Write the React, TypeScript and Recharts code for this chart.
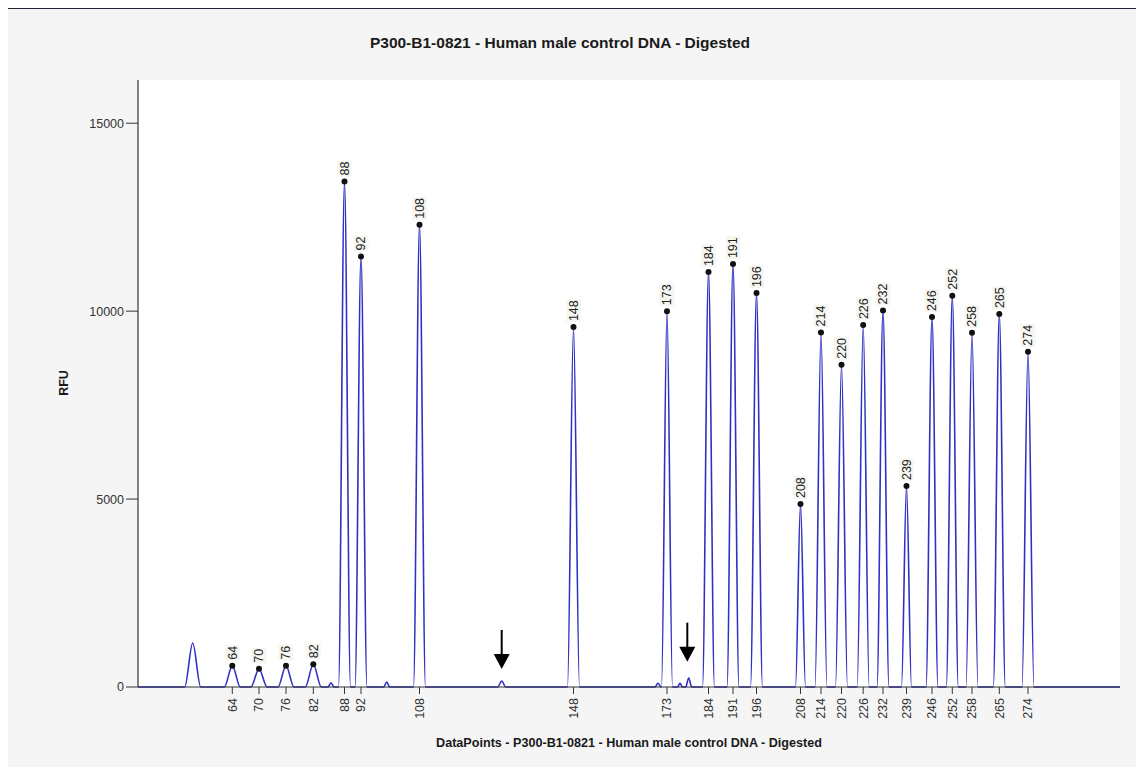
import React from "react";
import { ComposedChart, Line, Scatter, XAxis, YAxis } from "recharts";

// sized fragments (bp) with their position (data points) and height (RFU)
const SIZES = ["64", "70", "76", "82", "88", "92", "108", "148", "173", "184", "191", "196", "208", "214", "220", "226", "232", "239", "246", "252", "258", "265", "274"];
const SIZE_POS = [94.3, 121, 148, 175.3, 206.5, 223, 281.5, 435.5, 529, 570.5, 595, 618.5, 662.5, 683, 703.5, 725.2, 745, 768.5, 794, 814.3, 834, 861.3, 890];
const SIZE_RFU = [567, 487, 567, 604, 13450, 11457, 12297, 9576, 10000, 11039, 11252, 10480, 4868, 9435, 8573, 9629, 10020, 5347, 9842, 10409, 9424, 9922, 8919];
const SIZE_WIDTH = [8, 8, 8, 8, 6, 6, 6, 6, 5.5, 6, 6, 6, 5, 6, 6, 6, 6, 5, 6, 6, 6, 6, 6];

// unlabelled peaks in the trace
const MINOR_POS = [54.7, 193, 248.7, 363.7, 520, 542, 550.7];
const MINOR_RFU = [1170, 115, 130, 160, 100, 100, 240];
const MINOR_WIDTH = [8, 3, 3, 4, 3, 2.5, 3];

// annotation arrows (tip position)
const ARROW_POS = [363.7, 549.3];
const ARROW_TIP_RFU = [479, 673];

const Y_TICKS = [0, 5000, 10000, 15000];
const X_MAX = 982;
const Y_MAX = 16150;

const FONT = "Arial, 'Liberation Sans', sans-serif";
const TRACE = "#3030c4";
const AXIS = "#333333";

const peaks = [
  ...SIZE_POS.map((x, i) => ({ x, h: SIZE_RFU[i], w: SIZE_WIDTH[i] })),
  ...MINOR_POS.map((x, i) => ({ x, h: MINOR_RFU[i], w: MINOR_WIDTH[i] })),
].sort((a, b) => a.x - b.x);

const trace: { x: number; y: number }[] = [{ x: 0, y: 0 }];
peaks.forEach((p) => {
  trace.push({ x: p.x - p.w, y: 0 }, { x: p.x, y: p.h }, { x: p.x + p.w, y: 0 });
});
trace.push({ x: X_MAX, y: 0 });

const sizeDots = SIZES.map((s, i) => ({ x: SIZE_POS[i], y: SIZE_RFU[i], label: s }));
const arrows = ARROW_POS.map((x, i) => ({ x, y: ARROW_TIP_RFU[i] }));

const SizeTick = (props: any) => {
  const { x, y, payload } = props;
  const i = SIZE_POS.indexOf(payload.value);
  return (
    <text
      x={0}
      y={0}
      dy="0.35em"
      textAnchor="end"
      transform={`translate(${x},${y}) rotate(-90)`}
      fontSize={12.5}
      fontFamily={FONT}
      fill={AXIS}
    >
      {SIZES[i]}
    </text>
  );
};

const PeakMark = (props: any) => {
  const { cx, cy, payload } = props;
  const len = payload.label.length * 7;
  return (
    <g>
      <g transform={`translate(${cx},${cy - 6}) rotate(-90)`}>
        <rect x={-1} y={-7.5} width={len + 2} height={15} fill="#f7f7f2" />
        <text x={0} y={0} dy="0.35em" fontSize={12.5} fontFamily={FONT} fill="#222">
          {payload.label}
        </text>
      </g>
      <circle cx={cx} cy={cy} r={3} fill="#111" />
    </g>
  );
};

const Arrow = (props: any) => {
  const { cx, cy } = props;
  return (
    <g>
      <line x1={cx} y1={cy - 39} x2={cx} y2={cy - 14} stroke="#000" strokeWidth={2} />
      <polygon points={`${cx - 8},${cy - 15} ${cx + 8},${cy - 15} ${cx},${cy}`} fill="#000" />
    </g>
  );
};

export default function App() {
  return (
    <div
      style={{
        position: "relative",
        marginLeft: -4,
        width: 1135,
        height: 758,
        borderTop: "1px solid #1e2438",
        borderLeft: "1px solid #1e2438",
        background: "#f5f5f5",
        fontFamily: FONT,
        overflow: "hidden",
      }}
    >
      <div style={{ position: "absolute", left: 133, top: 71, width: 982, height: 607, background: "#fff" }} />
      <div
        style={{
          position: "absolute",
          left: 0,
          top: 25,
          width: 1110,
          textAlign: "center",
          fontSize: 15.5,
          lineHeight: "18px",
          fontWeight: "bold",
          color: "#1a1a1a",
        }}
      >
        P300-B1-0821 - Human male control DNA - Digested
      </div>
      <div
        style={{
          position: "absolute",
          left: 59,
          top: 374,
          transform: "translate(-50%, -50%) rotate(-90deg)",
          fontSize: 12.5,
          fontWeight: "bold",
          color: "#1a1a1a",
          whiteSpace: "nowrap",
        }}
      >
        RFU
      </div>
      <div
        style={{
          position: "absolute",
          left: 624,
          top: 727,
          transform: "translateX(-50%)",
          fontSize: 12.6,
          lineHeight: "15px",
          fontWeight: "bold",
          color: "#1a1a1a",
          whiteSpace: "nowrap",
        }}
      >
        DataPoints - P300-B1-0821 - Human male control DNA - Digested
      </div>
      <div style={{ position: "absolute", left: 0, top: 0 }}>
        <ComposedChart width={1135} height={758} margin={{ top: 71, right: 20, bottom: 40, left: 73 }}>
          <XAxis
            dataKey="x"
            type="number"
            domain={[0, X_MAX]}
            ticks={SIZE_POS}
            interval={0}
            tick={<SizeTick />}
            tickSize={7}
            tickMargin={4}
            height={40}
            axisLine={{ stroke: AXIS, strokeWidth: 1.2 }}
            tickLine={{ stroke: AXIS }}
          />
          <YAxis
            type="number"
            domain={[0, Y_MAX]}
            ticks={Y_TICKS}
            interval={0}
            width={60}
            tickSize={12}
            tickMargin={2}
            tick={{ fontSize: 12.5, fill: AXIS, fontFamily: FONT }}
            axisLine={{ stroke: AXIS, strokeWidth: 1.2 }}
            tickLine={{ stroke: AXIS }}
          />
          <Line
            data={trace}
            dataKey="y"
            type="monotone"
            stroke={TRACE}
            strokeWidth={1.6}
            dot={false}
            activeDot={false}
            isAnimationActive={false}
          />
          <Scatter data={sizeDots} dataKey="y" shape={<PeakMark />} isAnimationActive={false} />
          <Scatter data={arrows} dataKey="y" shape={<Arrow />} isAnimationActive={false} />
        </ComposedChart>
      </div>
    </div>
  );
}
